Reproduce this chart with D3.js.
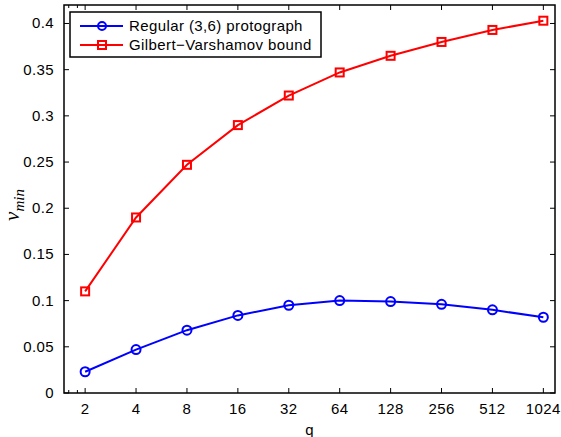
<!DOCTYPE html>
<html>
<head>
<meta charset="utf-8">
<script src="https://cdn.jsdelivr.net/npm/d3@7"></script>
<style>
  html, body { margin: 0; padding: 0; background: #fff; }
  svg { display: block; font-family: "Liberation Sans", Arial, Helvetica, sans-serif; }
</style>
</head>
<body>
<svg id="chart" width="561" height="437"></svg>
<script>
// Field size q (log2-spaced axis)
const qValues = [2, 4, 8, 16, 32, 64, 128, 256, 512, 1024];
// Minimum relative distance for the regular (3,6) protograph ensemble
const protograph = [0.023, 0.047, 0.068, 0.084, 0.095, 0.100, 0.099, 0.096, 0.090, 0.082];
// Gilbert–Varshamov bound
const gvBound = [0.110, 0.190, 0.247, 0.290, 0.322, 0.347, 0.365, 0.380, 0.393, 0.403];
const yTicks = [0, 0.05, 0.1, 0.15, 0.2, 0.25, 0.3, 0.35, 0.4];
const xMinorTicks = [1.6, 1.8];
const seriesNames = ["Regular (3,6) protograph", "Gilbert\u2212Varshamov bound"];

const svg = d3.select("#chart");
const pLeft = 64, pRight = 555, pTop = 5, pBottom = 393;

const x = d3.scaleLog().base(2).domain([1.5, 1200]).range([pLeft, pRight]);
const y = d3.scaleLinear().domain([0, 0.42]).range([pBottom, pTop]);

const tickLen = 5;
const axisColor = "#000";
const fontSize = 15;
const spacing = 0.4;

// Axis ticks on all four sides (pointing inward)
const tickG = svg.append("g").attr("stroke", axisColor).attr("stroke-width", 1);
qValues.forEach(q => {
  tickG.append("line").attr("x1", x(q)).attr("x2", x(q)).attr("y1", pBottom).attr("y2", pBottom - tickLen);
  tickG.append("line").attr("x1", x(q)).attr("x2", x(q)).attr("y1", pTop).attr("y2", pTop + tickLen);
});
xMinorTicks.forEach(q => {
  tickG.append("line").attr("x1", x(q)).attr("x2", x(q)).attr("y1", pBottom).attr("y2", pBottom - 3);
  tickG.append("line").attr("x1", x(q)).attr("x2", x(q)).attr("y1", pTop).attr("y2", pTop + 3);
});
yTicks.forEach(v => {
  tickG.append("line").attr("x1", pLeft).attr("x2", pLeft + tickLen).attr("y1", y(v)).attr("y2", y(v));
  tickG.append("line").attr("x1", pRight).attr("x2", pRight - tickLen).attr("y1", y(v)).attr("y2", y(v));
});

// Tick labels
svg.append("g").selectAll("text").data(qValues).join("text")
  .attr("x", d => x(d)).attr("y", pBottom + 21)
  .attr("text-anchor", "middle").attr("font-size", fontSize)
  .attr("letter-spacing", spacing).attr("fill", "#000")
  .text(d => d);
svg.append("g").selectAll("text").data(yTicks).join("text")
  .attr("x", pLeft - 10).attr("y", d => y(d) + 5)
  .attr("text-anchor", "end").attr("font-size", fontSize)
  .attr("letter-spacing", spacing).attr("fill", "#000")
  .text(d => d3.format("~g")(d));

// Axis titles
svg.append("text").attr("x", (pLeft + pRight) / 2).attr("y", 435)
  .attr("text-anchor", "middle").attr("font-size", fontSize).text("q");
const yl = svg.append("text")
  .attr("transform", `translate(19, 205) rotate(-90)`)
  .attr("text-anchor", "middle")
  .attr("font-family", "'Liberation Serif', 'Times New Roman', serif")
  .attr("font-style", "italic");
yl.append("tspan").attr("font-size", 21).text("\u03bd");
yl.append("tspan").attr("font-size", 15).attr("dy", 5).text("min");

// Series
const line = d3.line().x((d, i) => x(qValues[i])).y(d => y(d));

function drawSeries(data, color, shape) {
  svg.append("path").datum(data)
    .attr("d", line).attr("fill", "none")
    .attr("stroke", color).attr("stroke-width", 2);
  const g = svg.append("g");
  data.forEach((v, i) => {
    if (shape === "circle") {
      g.append("circle").attr("cx", x(qValues[i])).attr("cy", y(v)).attr("r", 4.5)
        .attr("fill", "none").attr("stroke", color).attr("stroke-width", 2);
    } else {
      g.append("rect").attr("x", x(qValues[i]) - 4).attr("y", y(v) - 4)
        .attr("width", 8).attr("height", 8)
        .attr("fill", "none").attr("stroke", color).attr("stroke-width", 2);
    }
  });
}
drawSeries(protograph, "#0000ff", "circle");
drawSeries(gvBound, "#ff0000", "square");

// Axes box
svg.append("rect").attr("x", pLeft).attr("y", pTop)
  .attr("width", pRight - pLeft).attr("height", pBottom - pTop)
  .attr("fill", "none").attr("stroke", axisColor).attr("stroke-width", 1.5);

// Legend
const lg = svg.append("g");
lg.append("rect").attr("x", 70).attr("y", 12).attr("width", 251).attr("height", 45)
  .attr("fill", "#fff").attr("stroke", "#000").attr("stroke-width", 1.5);
const legendItems = [
  { name: seriesNames[0], color: "#0000ff", shape: "circle", cy: 26 },
  { name: seriesNames[1], color: "#ff0000", shape: "square", cy: 45 }
];
legendItems.forEach(it => {
  lg.append("line").attr("x1", 80).attr("x2", 123).attr("y1", it.cy).attr("y2", it.cy)
    .attr("stroke", it.color).attr("stroke-width", 2);
  if (it.shape === "circle") {
    lg.append("circle").attr("cx", 102).attr("cy", it.cy).attr("r", 4)
      .attr("fill", "none").attr("stroke", it.color).attr("stroke-width", 2);
  } else {
    lg.append("rect").attr("x", 98).attr("y", it.cy - 4).attr("width", 8).attr("height", 8)
      .attr("fill", "none").attr("stroke", it.color).attr("stroke-width", 2);
  }
  lg.append("text").attr("x", 129).attr("y", it.cy + 5).attr("font-size", fontSize)
    .attr("letter-spacing", spacing).attr("fill", "#000").text(it.name);
});
</script>
</body>
</html>
